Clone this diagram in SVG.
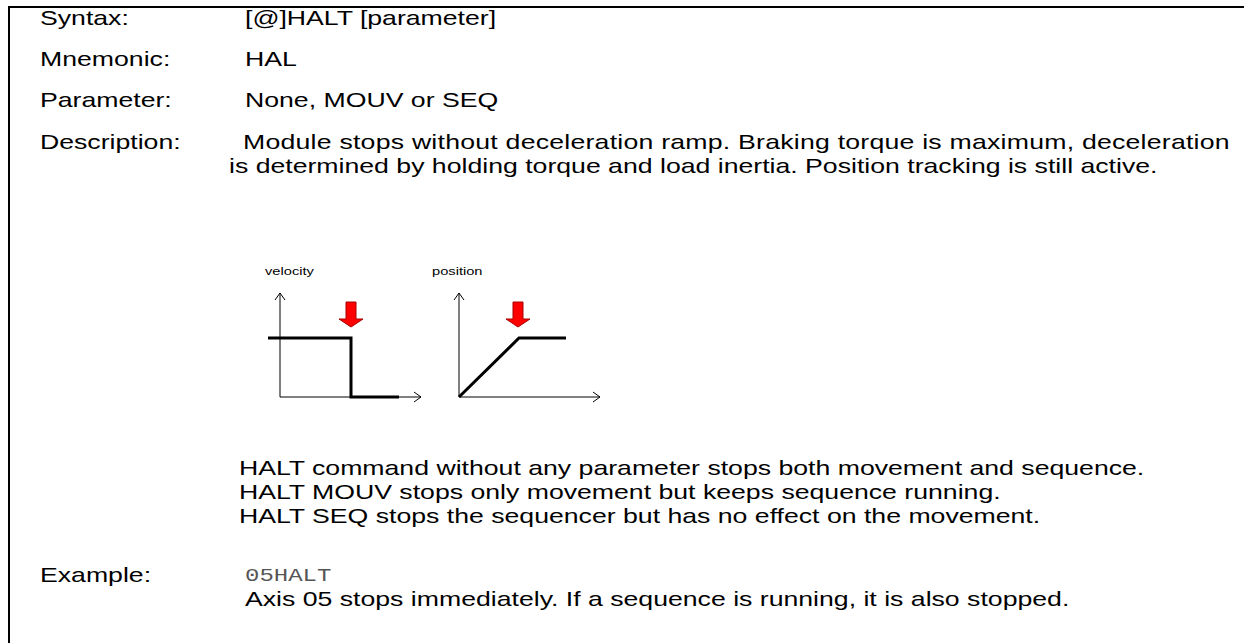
<svg xmlns="http://www.w3.org/2000/svg" width="1244" height="643" viewBox="0 0 1244 643">
<style>
.t{font-family:"Liberation Sans",Arial,sans-serif;font-size:20px;fill:#000}
.s{font-family:"Liberation Sans",Arial,sans-serif;font-size:11px;fill:#000}
.m{font-family:"Liberation Mono","Courier New",monospace;font-size:18px;fill:#555}
.ax{stroke:#000;stroke-width:1;fill:none}
.cv{stroke:#000;stroke-width:3;fill:none}
.ra{fill:#f00;stroke:#a00;stroke-width:1}
</style>
<rect width="1244" height="643" fill="#fff"/>
<g id="frame">
<line x1="9" y1="7" x2="1244" y2="7" stroke="#000" stroke-width="2"/>
<line x1="9" y1="6" x2="9" y2="643" stroke="#000" stroke-width="2"/>
</g>
<g id="labels">
<text class="t" transform="translate(40,25) scale(1.3333,1)">Syntax:</text>
<text class="t" transform="translate(245,25) scale(1.3333,1)">[@]HALT [parameter]</text>
<text class="t" transform="translate(40,66) scale(1.3333,1)">Mnemonic:</text>
<text class="t" transform="translate(245,66) scale(1.3333,1)">HAL</text>
<text class="t" transform="translate(40,107) scale(1.3333,1)">Parameter:</text>
<text class="t" transform="translate(245,107) scale(1.3333,1)">None, MOUV or SEQ</text>
<text class="t" transform="translate(40,149) scale(1.3333,1)">Description:</text>
<text class="t" transform="translate(243,149) scale(1.3333,1)" textLength="740" lengthAdjust="spacing">Module stops without deceleration ramp. Braking torque is maximum, deceleration</text>
<text class="t" transform="translate(229,173) scale(1.3333,1)">is determined by holding torque and load inertia. Position tracking is still active.</text>
<text class="t" transform="translate(239,475) scale(1.3333,1)">HALT command without any parameter stops both movement and sequence.</text>
<text class="t" transform="translate(239,499) scale(1.3333,1)">HALT MOUV stops only movement but keeps sequence running.</text>
<text class="t" transform="translate(239,523) scale(1.3333,1)">HALT SEQ stops the sequencer but has no effect on the movement.</text>
<text class="t" transform="translate(40,582) scale(1.3333,1)">Example:</text>
<text class="m" transform="translate(245,581) scale(1.3333,1)">05HALT</text>
<text class="t" transform="translate(245,606) scale(1.3333,1)">Axis 05 stops immediately. If a sequence is running, it is also stopped.</text>
</g>
<g id="velocity-chart">
<text class="s" transform="translate(265,275) scale(1.3333,1)">velocity</text>
<path class="ax" d="M280,293 V397 H421 M275,300 L280,293 L285,300 M414,392 L421,397 L414,402"/>
<path class="cv" d="M268,338 H351 V397 H399"/>
<path class="ra" d="M346,302 H356 V319 H363 L351,327 L339,319 H346 Z"/>
</g>
<g id="position-chart">
<text class="s" transform="translate(432,275) scale(1.3333,1)">position</text>
<path class="ax" d="M459,293 V397 H600 M454,300 L459,293 L464,300 M593,392 L600,397 L593,402"/>
<path class="cv" d="M459,397 L519,338 H566"/>
<path class="ra" d="M513,302 H523 V319 H530 L518,327 L506,319 H513 Z"/>
</g>
</svg>
